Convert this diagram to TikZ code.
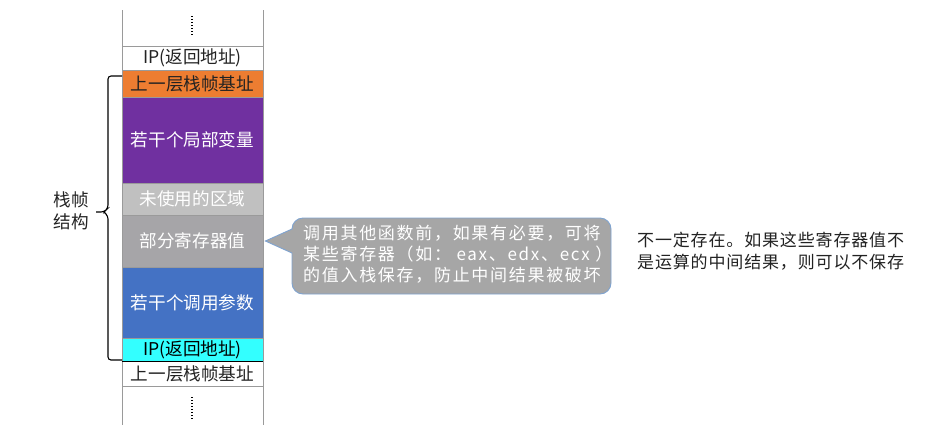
\documentclass[tikz,border=0pt]{standalone}
\usepackage{fontspec}
\setmainfont{Noto Sans CJK SC}
\newfontfamily\cjkspaced[LetterSpace=10]{Noto Sans CJK SC}
\newfontfamily\cjknote[LetterSpace=5]{Noto Sans CJK SC}
\definecolor{orangeB}{HTML}{ED7D31}
\definecolor{purpleB}{HTML}{7030A0}
\definecolor{lgrayB}{HTML}{C0C0C0}
\definecolor{grayB}{HTML}{A6A5A8}
\definecolor{blueB}{HTML}{4472C4}
\definecolor{cyanB}{HTML}{33FFFF}
\definecolor{calloutFill}{HTML}{A6A6A6}
\definecolor{calloutEdge}{HTML}{7FA3D0}
\definecolor{lineGray}{HTML}{9A9A9A}
\definecolor{txtDark}{HTML}{222222}
\tikzset{
  row/.style={draw=lineGray, line width=0.8pt, minimum width=141pt, inner sep=0pt,
    font=\fontsize{17.6}{20}\selectfont, text=txtDark},
  whiterow/.style={row, text=txtDark},
  colrow/.style={row, text=white},
  rail/.style={lineGray, line width=0.8pt},
  dotline/.style={line width=1.3pt, dash pattern=on 1.1pt off 1.9pt},
}
\begin{document}
\begin{tikzpicture}[x=1pt,y=-1pt]
\useasboundingbox (0,0) rectangle (950,432);
% rails
\draw[rail] (122,10) -- (122,425);
\draw[rail] (263,10) -- (263,425);
\draw[dotline] (192,16) -- (192,36);
\draw[dotline] (192,397) -- (192,419);
% rows
\node[whiterow, minimum height=24pt] (ip1) at (192.5,58) {IP(返回地址)};
\node[row, fill=orangeB, text=txtDark, minimum height=27pt] (base1) at (192.5,83.5) {上一层栈帧基址};
\node[colrow, fill=purpleB, minimum height=86pt] (locals) at (192.5,140) {若干个局部变量};
\node[colrow, fill=lgrayB, minimum height=32pt] (unused) at (192.5,199) {未使用的区域};
\node[colrow, fill=grayB, minimum height=52pt] (regs) at (192.5,241) {部分寄存器值};
\node[colrow, fill=blueB, minimum height=71pt] (params) at (192.5,302.5) {若干个调用参数};
\node[row, fill=cyanB, text=black, minimum height=23pt] (ip2) at (192.5,349.5) {IP(返回地址)};
\node[whiterow, minimum height=25pt] (base2) at (192.5,373.5) {上一层栈帧基址};
\draw[black, line width=1pt] (ip2.south west) -- (ip2.south east);
% brace
\coordinate (bt) at (122,76);
\coordinate (bb) at (122,360);
\draw[black, line width=1.1pt, rounded corners=3pt]
  (bt) -- (108,76) -- (108,208) -- (104,212) -- (96,212);
\draw[black, line width=1.1pt, rounded corners=3pt]
  (104,212) -- (108,216) -- (108,360) -- (bb);
\node[font=\fontsize{17.6}{22}\selectfont, text=txtDark, align=center] (lbl) at (71,211) {栈帧\\结构};
% callout
\coordinate (tip) at ([xshift=2pt]regs.east);
\draw[fill=calloutFill, draw=calloutEdge, line width=0.9pt]
  (tip) -- (292,229) [rounded corners=11pt] -- (292,218) -- (611,218) -- (611,294) -- (292,294) [sharp corners] -- (292,253) -- cycle;
\node[anchor=west, align=left, text=white, inner sep=0pt,
  font=\cjkspaced\fontsize{17}{21}\selectfont] (callout) at (303,254)
  {调用其他函数前，如果有必要，可将\\某些寄存器（如： eax、edx、ecx\ ）\\的值入栈保存，防止中间结果被破坏};
% note
\node[anchor=west, align=left, text=txtDark, inner sep=0pt,
  font=\cjknote\fontsize{17}{22}\selectfont] (note) at (637,251)
  {不一定存在。如果这些寄存器值不\\是运算的中间结果，则可以不保存};
\end{tikzpicture}
\end{document}
